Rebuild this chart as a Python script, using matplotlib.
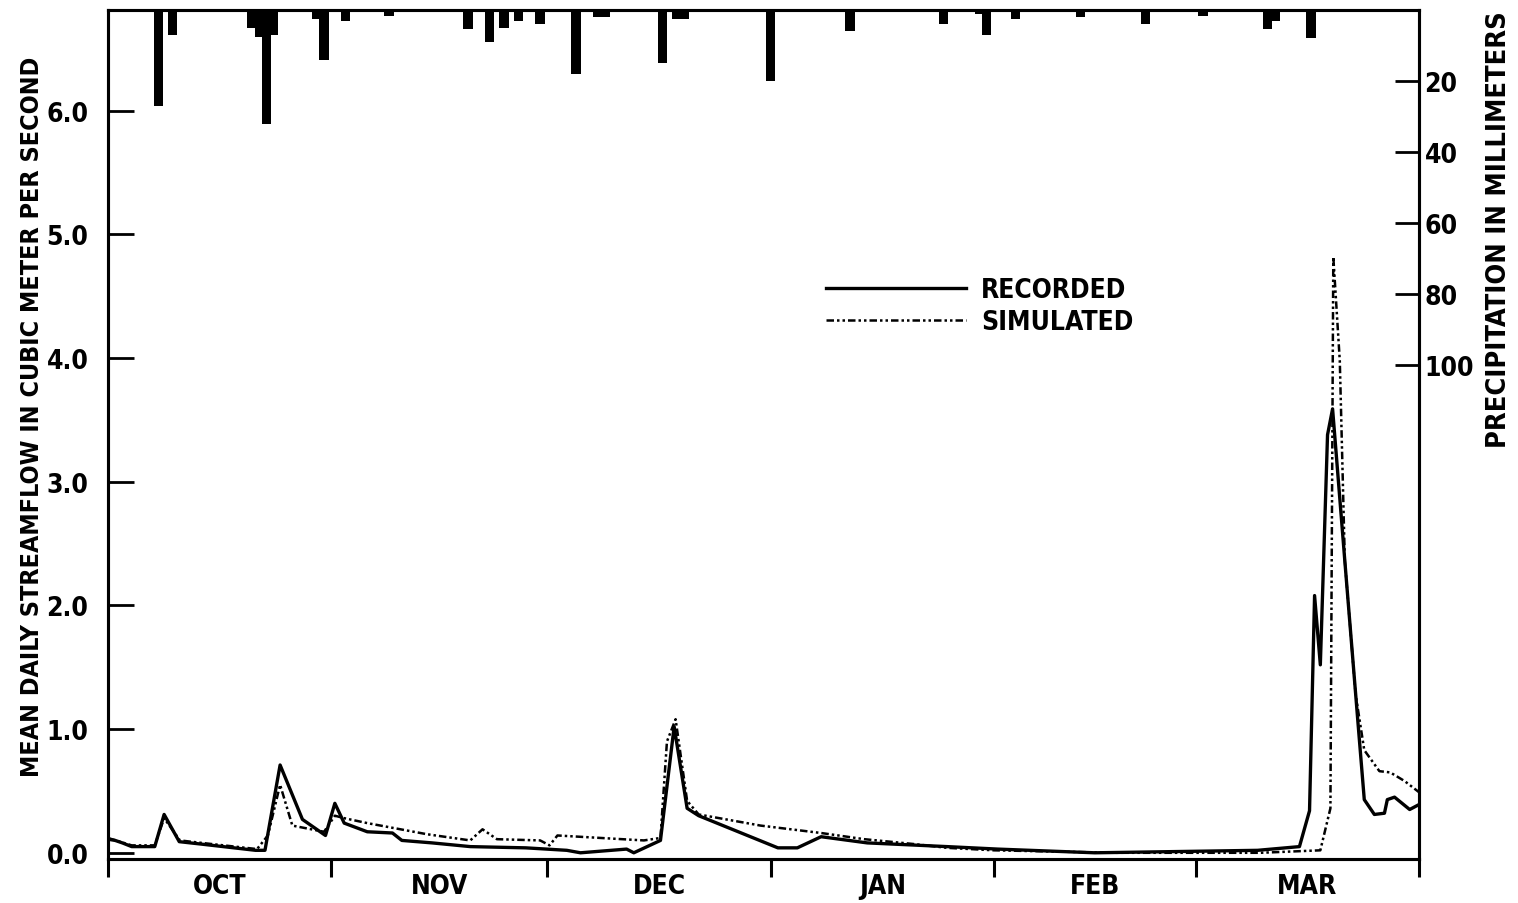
import matplotlib
matplotlib.use("Agg")
import matplotlib.pyplot as plt
from matplotlib.ticker import FixedLocator, NullFormatter

plt.rcParams['font.family'] = ['DejaVu Sans']
plt.rcParams['font.stretch'] = 'condensed'
plt.rcParams['font.weight'] = 'bold'
plt.rcParams['axes.labelweight'] = 'bold'

# days counted from Oct 1 (day 0) to end of March (day 182)
month_names = ["OCT", "NOV", "DEC", "JAN", "FEB", "MAR"]
month_edges = [0, 31, 61, 92, 123, 151, 182]

rec_day = [0, 1, 2, 3.3, 6.5, 7.8, 9.9, 13, 20.5, 21.8, 23.9, 27, 30.2, 31.5, 32.8,
           36, 39.5, 40.8, 45, 50.3, 58, 63.7, 65.6, 72, 73, 76.7, 78.6, 80.4, 82,
           93, 95.7, 99, 105.4, 116.5, 123.5, 137, 159.6, 165.4, 166.8, 167.5,
           168.3, 169.3, 170, 171.7, 173.5, 174.4, 175.8, 177.2, 177.6, 178.6,
           180.7, 182]
rec_flow = [0.11, 0.10, 0.08, 0.05, 0.05, 0.31, 0.09, 0.07, 0.02, 0.02, 0.71, 0.27,
            0.14, 0.40, 0.24, 0.17, 0.16, 0.10, 0.08, 0.05, 0.04, 0.02, 0.0, 0.03,
            0.0, 0.10, 1.02, 0.36, 0.30, 0.04, 0.04, 0.13, 0.08, 0.05, 0.03, 0.0,
            0.02, 0.05, 0.34, 2.08, 1.52, 3.38, 3.59, 2.36, 1.07, 0.43, 0.31, 0.32,
            0.43, 0.45, 0.35, 0.39]

sim_day = [0, 3.3, 6.5, 7.8, 10, 13, 20.7, 22.2, 23.9, 25.6, 30, 31.5, 32.8, 36,
           44.3, 50.3, 52, 54, 60, 61.3, 62.4, 74.4, 76.7, 77.6, 78.8, 80.4, 82,
           90.6, 99, 105, 112, 116.5, 123, 140, 160, 168.3, 169.7, 170.1, 171,
           171.7, 173.2, 174.4, 176.5, 178, 180, 182]
sim_flow = [0.12, 0.06, 0.06, 0.28, 0.10, 0.08, 0.03, 0.14, 0.55, 0.22, 0.17, 0.30,
            0.28, 0.24, 0.15, 0.10, 0.19, 0.11, 0.10, 0.06, 0.14, 0.10, 0.12, 0.9,
            1.08, 0.42, 0.31, 0.22, 0.16, 0.11, 0.07, 0.04, 0.02, 0.0, 0.0, 0.02,
            0.36, 4.82, 3.98, 2.36, 1.28, 0.83, 0.66, 0.65, 0.58, 0.49]

rain_day = [7, 9, 20, 21, 22, 23, 29, 30, 33, 39, 50, 53, 55, 57, 60, 65, 68, 69,
            77, 79, 80, 92, 103, 116, 121, 122, 126, 135, 144, 152, 161, 162, 167]
rain_mm = [27, 7, 5, 7.6, 32, 7, 2.5, 14, 3, 1.7, 5.4, 9, 5, 3, 4, 18, 2, 2,
           15, 2.5, 2.5, 20, 6, 4, 1, 7, 2.5, 2, 4, 1.8, 5.4, 3, 8]

fig = plt.figure(figsize=(15.18, 9.04), dpi=100)
ax = fig.add_axes([0.0711, 0.0487, 0.8637, 0.9391])
ax2 = ax.twinx()

# streamflow
ax.plot(rec_day, rec_flow, color="black", lw=2.4, solid_joinstyle="round",
        label="RECORDED")
ax.plot(sim_day, sim_flow, color="black", lw=1.8,
        dashes=(3, 1.2, 1, 1.2, 1, 1.2), label="SIMULATED")

ax.set_xlim(0, 182)
ax.set_ylim(-0.05, 6.815)
ax.set_yticks([0, 1, 2, 3, 4, 5, 6])
ax.set_yticklabels(["0.0", "1.0", "2.0", "3.0", "4.0", "5.0", "6.0"])
ax.set_ylabel("MEAN DAILY STREAMFLOW IN CUBIC METER PER SECOND", fontsize=18)
ax.yaxis.set_label_coords(-0.049, 0.522)

# month boundaries as outward ticks, names in the middle
ax.xaxis.set_major_locator(FixedLocator(month_edges))
ax.xaxis.set_major_formatter(NullFormatter())
mids = [(month_edges[i] + month_edges[i + 1]) / 2 for i in range(6)]
ax.xaxis.set_minor_locator(FixedLocator(mids))
ax.set_xticklabels(month_names, minor=True)
ax.tick_params(axis="x", which="major", direction="out", length=13, width=2.2)
ax.tick_params(axis="x", which="minor", length=0, pad=10, labelsize=19)
ax.tick_params(axis="y", direction="in", length=19, width=2, pad=14, labelsize=19)

# precipitation hanging from the top
ax2.bar(rain_day, rain_mm, width=1.3, color="black")
ax2.set_ylim(239, 0)
ax2.set_yticks([20, 40, 60, 80, 100])
ax2.tick_params(axis="y", direction="in", length=17, width=2, pad=4, labelsize=19)
ax2.set_ylabel("PRECIPITATION IN MILLIMETERS", fontsize=19.5)
ax2.yaxis.set_label_coords(1.051, 0.742)

for a in (ax, ax2):
    for s in a.spines.values():
        s.set_linewidth(2.2)

ax.legend(loc="upper left", bbox_to_anchor=(0.548, 0.685), frameon=False,
          fontsize=19, handlelength=5.3, handletextpad=0.55, labelspacing=0.22,
          borderpad=0, borderaxespad=0)

plt.savefig("out.png", dpi=100)
